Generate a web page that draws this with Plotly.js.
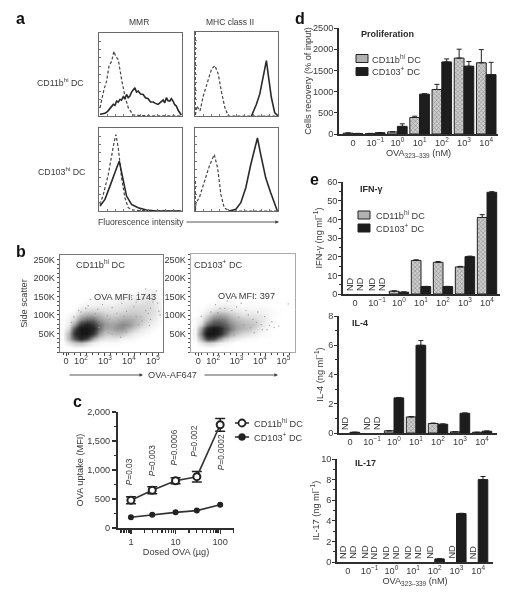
<!DOCTYPE html>
<html><head><meta charset="utf-8">
<script src="https://cdn.plot.ly/plotly-3.0.1.min.js"></script>
<style>html,body{margin:0;padding:0;background:#fff}#g{width:530px;height:600px;filter:blur(0.35px)}</style>
</head><body><div id="g"></div>
<script>
// ---------- DATA ----------
// a: histograms (x = fluorescence channel, y = counts)
const mmrCd11bSolidX=[3,10,18,26,33,38,43,48,53,58,63,68,73,78,83,88,93,98,103,108,113,118,125,133,140,148,155,163,170,178,186,193,198,203,208,213,218,223,228,233,238,243,248];
const mmrCd11bSolidY=[5,6,8,14,22,30,35,32,45,42,50,48,58,52,65,55,60,72,80,85,72,75,66,65,55,52,42,42,38,35,42,48,40,55,46,45,52,45,34,30,18,10,3];
const mmrCd11bIsoX=[3,8,15,23,30,38,45,50,58,68,78,88,103,130,248];
const mmrCd11bIsoY=[25,50,80,105,150,165,195,180,170,110,60,25,3,1,0];
const mhcCd11bIsoX=[1,1,5,15,25,35,50,60,70,80,90,100,170,250];
const mhcCd11bIsoY=[250,0,30,15,60,95,140,150,125,70,25,0,0,0];
const mhcCd11bSolidX=[170,185,195,205,212,215,223,230,240,250];
const mhcCd11bSolidY=[0,35,65,115,160,165,105,55,10,0];
const mmrCd103IsoX=[3,13,28,38,45,51,58,68,78,88,103,130,248];
const mmrCd103IsoY=[20,50,110,170,205,230,190,100,40,10,3,1,0];
const mmrCd103SolidX=[3,18,33,48,55,61,71,83,98,118,143,173,248];
const mmrCd103SolidY=[15,35,75,120,135,150,100,45,20,10,3,0,0];
const mhcCd103IsoX=[1,1,3,13,28,43,58,68,78,88,103,250];
const mhcCd103IsoY=[90,0,25,40,90,135,170,130,50,10,0,0];
const mhcCd103SolidX=[103,123,138,153,168,178,188,198,213,228,238,248];
const mhcCd103SolidY=[0,5,25,70,140,180,220,170,100,55,25,0];
// b: density grids on a (display decade, kilo-events) lattice
const flowX=[1.25,1.5,1.75,2,2.25,2.5,2.75,3,3.25,3.5,3.75,4,4.25,4.5,4.75,5,5.25];
const flowY=[12.5,25,37.5,50,62.5,75,87.5,100,112.5,125,137.5,150,162.5];
const flowCd11b=[
[0,0,.1,.1,0,0,0,0,0,0,0,0,0,0,0,0,0],
[0,.7,1.5,1.8,1,.4,.2,.1,.1,.1,0,0,0,0,0,0,0],
[.1,2,5.5,8,6,2.5,1,.6,.6,.5,.3,.2,.1,0,0,0,0],
[.1,2,7.5,10,10,7,3,1.5,1.5,1.8,1.5,.8,.4,.2,.1,0,0],
[0,1,6,10,10,8.5,4.5,2.5,2.5,3,3,2,1.2,.6,.3,.1,0],
[0,.5,3,7,8.5,7,4.5,3,2.5,3,3.5,3,2,1.2,.6,.3,.1],
[0,.3,1.2,3.5,4.5,4.5,3,2.2,1.8,2,2.4,2.4,2,1.5,1,.5,.2],
[0,.1,.5,1.5,2.2,2.2,1.8,1.3,1.1,1.2,1.4,1.5,1.5,1.3,1,.7,.3],
[0,0,.1,.6,.9,1,.9,.8,.7,.7,.9,1.1,1.1,1.1,1,.8,.4],
[0,0,0,.2,.3,.3,.4,.4,.4,.5,.6,.7,.9,.9,.9,.7,.3],
[0,0,0,0,.1,.2,.2,.2,.2,.3,.4,.5,.5,.6,.8,.6,.3],
[0,0,0,0,0,0,0,0,0,.2,.2,.3,.3,.4,.6,.5,.1],
[0,0,0,0,0,0,0,0,0,0,0,0,0,.2,.3,.3,.1]];
const flowCd103=[
[0,0,0,0,0,0,0,0,0,0,0,0,0,0,0,0,0],
[0,.5,1.2,1,.4,.2,.1,0,0,0,0,0,0,0,0,0,0],
[.2,2.5,6.5,6,3.5,1.5,.7,.4,.2,.1,.1,0,0,0,0,0,0],
[.3,4,10,10,8.5,5,2.5,1.5,1,.7,.4,.2,.1,0,0,0,0],
[.2,3,8,10,9,6,4,2.5,2,1.6,1,.5,.2,0,0,0,0],
[.1,1,4.5,6,6,5,3.5,2.5,2,1.7,1.4,.8,.3,.1,0,0,0],
[.1,.4,2.2,4,4.2,3.8,2.5,1.8,1.4,1.2,1,.7,.4,.1,0,0,0],
[0,.2,.9,2,2.5,2.2,1.5,1,.7,.6,.6,.5,.3,.1,.05,0,0],
[0,.1,.3,.7,1,1,.7,.5,.3,.3,.3,.3,.2,.1,.05,0,0],
[0,0,.1,.2,.3,.4,.3,.2,.1,.1,.1,.1,.1,0,0,0,0],
[0,0,0,0,.1,.1,.1,0,0,0,0,0,0,0,0,0,0],
[0,0,0,0,0,0,0,0,0,0,0,0,0,0,0,0,0],
[0,0,0,0,0,0,0,0,0,0,0,0,0,0,0,0,0]];
const speckCd11bX=[2.4,2.9,3.3,3.7,4.1,4.4,4.7,5.1,5.2,4.9,4.3,3.9,3.5,3.1,2.7,4.6,5.0,4.2,3.8,5.25,4.8,4.5,3.2,2.2,2.0,1.6,4.0,4.9,5.3,5.15,3.0,3.4,3.6,3.8,4.1,4.3,4.55,4.7,2.8,2.6,3.3,3.9,4.4,4.85,1.7,1.9,2.3,2.75,3.15,3.65];
const speckCd11bY=[142,128,120,132,148,160,170,155,132,118,135,110,105,98,115,145,135,122,96,110,104,95,88,118,108,80,82,88,100,165,72,60,86,78,70,96,84,112,92,104,48,54,74,72,95,112,125,66,52,40];
const speckCd103X=[2.1,2.6,3.0,3.4,3.9,4.2,4.5,4.8,3.2,2.8,2.3,3.7,4.6,5.2,4.1,1.5,1.9,3.5,4.4,3.0,3.3,3.6,3.85,4.05,4.3,2.9,2.5,3.1,2.2,3.75];
const speckCd103Y=[128,138,122,112,108,96,82,70,132,112,118,88,66,130,60,96,108,100,72,148,74,66,80,74,60,46,118,94,106,52];
// c: OVA uptake
const doses=[1,3,10,30,100];
const uptakeCd11b=[480,650,815,885,1780];
const uptakeCd11bErr=[60,60,50,90,110];
const uptakeCd103=[185,230,270,300,400];
const uptakeCd103Err=[20,20,20,20,20];
const pValues=['0.03','0.003','0.0006','0.002','0.0002'];
const pHeights=[710,860,1035,1190,965];
// d, e: bars by peptide dose (null = ND)
const ovaLabels=['0','10<sup>−1</sup>','10<sup>0</sup>','10<sup>1</sup>','10<sup>2</sup>','10<sup>3</sup>','10<sup>4</sup>'];
const prolifCd11b=[20,10,50,390,1050,1790,1680];
const prolifCd11bErr=[5,5,5,30,120,210,310];
const prolifCd103=[10,30,180,940,1700,1600,1400];
const prolifCd103Err=[5,5,60,10,70,110,290];
const ifnCd11b=[null,null,1.5,18,17,14.5,41];
const ifnCd11bErr=[0,0,.2,.3,.4,.3,1.5];
const ifnCd103=[null,null,1,4,4,20,54.5];
const ifnCd103Err=[0,0,.1,.1,.1,.3,.3];
const il4Cd11b=[null,null,.15,1.1,.65,.08,.05];
const il4Cd11bErr=[0,0,0,.03,.03,0,0];
const il4Cd103=[.05,null,2.4,6,.6,1.35,.12];
const il4Cd103Err=[0,0,.03,.32,.02,.02,.02];
const il17Cd11b=[null,null,null,null,null,null,null];
const il17Cd103=[null,null,null,null,.3,4.7,8];
const il17Cd103Err=[0,0,0,0,0,.03,.3];

// ---------- HELPERS ----------
const W=530,H=600,X=p=>p/W,Y=p=>1-p/H;
const FONT='"Liberation Sans",Arial,sans-serif', INK='#3a3a3a', AX='#2e2e2e';
const TXT=9.2;
const layout={width:W,height:H,margin:{l:0,r:0,t:0,b:0},paper_bgcolor:'#fff',plot_bgcolor:'#fff',
  showlegend:false,font:{family:FONT,size:TXT,color:INK},barmode:'group',bargap:.12,bargroupgap:0,
  annotations:[],shapes:[]};
const traces=[];
let n=0;
function axes(xd,yd,xo,yo){
  n++;const s=n===1?'':n;
  layout['xaxis'+s]=Object.assign({domain:[X(xd[0]),X(xd[1])],anchor:'y'+s,showgrid:false,zeroline:false,automargin:false},xo);
  layout['yaxis'+s]=Object.assign({domain:[Y(yd[1]),Y(yd[0])],anchor:'x'+s,showgrid:false,zeroline:false,automargin:false},yo);
  return {x:'x'+s,y:'y'+s};
}
function label(px,py,text,o){
  layout.annotations.push(Object.assign({xref:'paper',yref:'paper',x:X(px),y:Y(py),text,showarrow:false,
    xanchor:'center',yanchor:'middle',font:{family:FONT,size:TXT,color:INK}},o||{}));
}
function arrow(x0,x1,py){
  layout.annotations.push({xref:'paper',yref:'paper',x:X(x1),y:Y(py),ax:x0-x1,ay:0,axref:'pixel',ayref:'pixel',text:'',showarrow:true,
    arrowhead:2,arrowsize:.8,arrowwidth:.9,arrowcolor:'#444'});
}
// ---------- a ----------
const histAxis={range:[0,250],showline:true,mirror:true,linecolor:'#6a6a6a',linewidth:1.2,ticks:'inside',ticklen:2,tickcolor:'#777',dtick:25,showticklabels:false,fixedrange:true};
function hist(xd,yd,sx,sy,ix,iy){
  const a=axes(xd,yd,histAxis,histAxis);
  traces.push({type:'scatter',mode:'lines',x:ix,y:iy,xaxis:a.x,yaxis:a.y,cliponaxis:false,line:{color:'#444',width:1.2,dash:'3px,2px'}});
  traces.push({type:'scatter',mode:'lines',x:sx,y:sy,xaxis:a.x,yaxis:a.y,line:{color:'#2a2a2a',width:1.6}});
}
hist([99,182],[33,116],mmrCd11bSolidX,mmrCd11bSolidY,mmrCd11bIsoX,mmrCd11bIsoY);
hist([195,278],[32,116],mhcCd11bSolidX,mhcCd11bSolidY,mhcCd11bIsoX,mhcCd11bIsoY);
hist([99,182],[128,211],mmrCd103SolidX,mmrCd103SolidY,mmrCd103IsoX,mmrCd103IsoY);
hist([195,278],[128,211],mhcCd103SolidX,mhcCd103SolidY,mhcCd103IsoX,mhcCd103IsoY);
label(139,22,'MMR',{font:{family:FONT,size:8.5,color:INK}});
label(229.5,22,'MHC class II',{font:{family:FONT,size:8.5,color:INK}});
label(60,82,'CD11b<sup>hi</sup> DC',{font:{family:FONT,size:8.8,color:INK}});
label(62,171,'CD103<sup>hi</sup> DC',{font:{family:FONT,size:8.8,color:INK}});
label(141,222,'Fluorescence intensity',{font:{family:FONT,size:8.6,color:INK}});
arrow(185,279,222);
// ---------- b ----------
const GREY=[[0,'#ffffff'],[.02,'#f6f6f6'],[.06,'#e6e6e6'],[.15,'#c4c4c4'],[.3,'#969696'],[.5,'#5c5c5c'],[.75,'#2c2c2c'],[1,'#161616']];
function flow(xd,yd,xr,z,sx,sy,yr,edge,yo){
  const tick={showline:true,mirror:true,linecolor:edge,linewidth:1.2,ticks:'outside',ticklen:3,tickcolor:'#444',tickfont:{size:TXT},fixedrange:true};
  const a=axes(xd,yd,Object.assign({},tick,{range:xr,tickvals:[1.375,2,3,4,5],ticktext:['0','10<sup>2</sup>','10<sup>3</sup>','10<sup>4</sup>','10<sup>5</sup>'],ticklabelstandoff:-3,minor:{ticks:'outside',dtick:.25,ticklen:2,tickcolor:'#444'}}),
    Object.assign({},tick,{range:yr,tickvals:[50,100,150,200,250],ticktext:['50K','100K','150K','200K','250K'],ticklen:2,minor:{ticks:'outside',dtick:12.5,ticklen:1.5,tickcolor:'#555'}},yo||{}));
  traces.push({type:'heatmap',x:flowX,y:flowY,z,xaxis:a.x,yaxis:a.y,zmin:0,zmax:10,zsmooth:'best',showscale:false,colorscale:GREY,hoverinfo:'skip'});
  traces.push({type:'scatter',mode:'markers',x:sx,y:sy,xaxis:a.x,yaxis:a.y,marker:{size:1.4,color:'#a0a0a0'}});
  return a;
}
flow([60,163],[255,352],[1.125,5.42],flowCd11b,speckCd11bX,speckCd11bY,[0,262],'#777',{title:{text:'Side scatter',standoff:4,font:{size:TXT}}});
flow([191,295],[254,352],[1.06,5.49],flowCd103,speckCd103X,speckCd103Y,[0,265],'#aaa');
label(100,264,'CD11b<sup>hi</sup> DC');
label(218,264,'CD103<sup>+</sup> DC');
label(125,297,'OVA MFI: 1743');
label(246,296,'OVA MFI: 397');
label(172,375,'OVA-AF647');
arrow(68,143,375);arrow(203,278,375);
// ---------- c ----------
const cAx=axes([118,234],[412,528],
 {type:'log',range:[-.29,2.31],showline:true,linecolor:AX,linewidth:2,ticks:'outside',ticklen:4,tickcolor:AX,tickwidth:1.3,dtick:1,tickfont:{size:TXT},
  minor:{ticks:'outside',dtick:'D1',ticklen:2.5,tickcolor:AX},tickvals:[1,10,100],ticktext:['1','10','100'],
  title:{text:'Dosed OVA (µg)',standoff:3,font:{size:TXT}},fixedrange:true},
 {range:[0,2000],showline:true,linecolor:AX,linewidth:2,ticks:'outside',ticklen:4,tickcolor:AX,tickwidth:1.3,dtick:500,tickformat:',d',tickfont:{size:TXT},
  minor:{ticks:'outside',dtick:250,ticklen:2.5,tickcolor:AX},
  title:{text:'OVA uptake (MFI)',standoff:2,font:{size:TXT}},fixedrange:true});
traces.push({type:'scatter',mode:'lines+markers',x:doses,y:uptakeCd103,xaxis:cAx.x,yaxis:cAx.y,
  error_y:{type:'data',array:uptakeCd103Err,color:'#222',thickness:1,width:2},
  line:{color:'#333',width:1.6},marker:{symbol:'circle',size:6,color:'#222'}});
traces.push({type:'scatter',mode:'lines+markers',x:doses,y:uptakeCd11b,xaxis:cAx.x,yaxis:cAx.y,cliponaxis:false,
  error_y:{type:'data',array:uptakeCd11bErr,color:'#222',thickness:1.5,width:5},
  line:{color:'#333',width:1.6},marker:{symbol:'circle',size:7,color:'#fff',line:{color:'#222',width:2}}});
const pShift=[-2,0,-2,-3,1];
doses.forEach((d,i)=>layout.annotations.push({xref:cAx.x,yref:cAx.y,x:Math.log10(d),y:pHeights[i],text:'<i>P</i>='+pValues[i],showarrow:false,textangle:-90,yanchor:'bottom',xshift:pShift[i],font:{family:FONT,size:8.3,color:INK}}));
[[423,false,'CD11b<sup>hi</sup> DC'],[437,true,'CD103<sup>+</sup> DC']].forEach(([py,fill,t])=>{
  layout.shapes.push({type:'line',xref:'paper',yref:'paper',x0:X(235),x1:X(249),y0:Y(py),y1:Y(py),line:{color:'#333',width:1.6}});
  layout.shapes.push({type:'circle',xref:'paper',yref:'paper',x0:X(238.5),x1:X(245.5),y0:Y(py+3.5),y1:Y(py-3.5),fillcolor:fill?'#222':'#fff',line:{color:'#222',width:fill?.5:1.8}});
  label(252,py,t,{xanchor:'left'});
});
// ---------- d, e ----------
const hatch={shape:'x',fgcolor:'#979797',bgcolor:'#cccccc',size:3,solidity:.4};
function bars(xd,yd,yr,xr,dt,minor,v1,e1,v2,e2,title,xtitle,sa){
  const a=axes(xd,yd,
   {type:'category',categoryorder:'array',categoryarray:ovaLabels,range:xr,showline:true,linecolor:AX,linewidth:1.8,ticks:'',tickfont:{size:TXT},ticklabelstandoff:-1,
    title:xtitle?{text:xtitle,standoff:3,font:{size:TXT}}:undefined,fixedrange:true},
   {range:yr,showline:true,linecolor:AX,linewidth:1.8,ticks:'outside',ticklen:3,tickcolor:AX,dtick:dt,tickfont:{size:TXT},ticklabelstandoff:-1,
    minor:minor?{ticks:'outside',dtick:minor,ticklen:2,tickcolor:AX}:undefined,
    title:{text:title,standoff:sa,font:{size:TXT}},fixedrange:true});
  const err=e=>e?{type:'data',symmetric:false,array:e,arrayminus:e.map(()=>0),color:'#222',thickness:1,width:2.5}:undefined;
  traces.push({type:'bar',x:ovaLabels,y:v1,xaxis:a.x,yaxis:a.y,error_y:err(e1),marker:{color:'#cccccc',pattern:hatch,line:{color:'#222',width:1}}});
  traces.push({type:'bar',x:ovaLabels,y:v2,xaxis:a.x,yaxis:a.y,error_y:err(e2),marker:{color:'#1d1d1d',line:{color:'#1d1d1d',width:1}}});
  ovaLabels.forEach((c,i)=>{
    [[v1,-4.9],[v2,4.9]].forEach(([v,sh])=>{ if(v[i]===null) layout.annotations.push({xref:a.x,yref:a.y,x:i,y:0,xshift:sh,yshift:1,yanchor:'bottom',showarrow:false,textangle:-90,text:'ND',font:{family:FONT,size:TXT,color:INK}}); });
  });
  return a;
}
const ovaNm='OVA<sub>323–339</sub> (nM)';
bars([339,498],[28,134],[0,2500],[-.63,6.53],500,0,prolifCd11b,prolifCd11bErr,prolifCd103,prolifCd103Err,'Cells recovery (% of input)',ovaNm,0);
bars([343,500],[182,294],[0,60],[-.545,6.59],10,5,ifnCd11b,ifnCd11bErr,ifnCd103,ifnCd103Err,'IFN-γ (ng ml<sup>−1</sup>)',undefined,3);
bars([339,497],[316,433],[0,8],[-.5,6.68],2,1,il4Cd11b,il4Cd11bErr,il4Cd103,il4Cd103Err,'IL-4 (ng ml<sup>−1</sup>)',undefined,3);
bars([337,493],[459,562],[0,10],[-.5,6.68],2,1,il17Cd11b,null,il17Cd103,il17Cd103Err,'IL-17 (ng ml<sup>−1</sup>)',ovaNm,0);
function swatch(x0,py,fill,t,tx){
  layout.shapes.push({type:'rect',xref:'paper',yref:'paper',x0:X(x0),x1:X(x0+12),y0:Y(py+4),y1:Y(py-4),fillcolor:fill,line:{color:'#222',width:1}});
  label(tx,py,t,{xanchor:'left'});
}
swatch(356,58.5,'#b2b2b2','CD11b<sup>hi</sup> DC',370);
swatch(356,71.5,'#1d1d1d','CD103<sup>+</sup> DC',370);
swatch(358,215,'#b2b2b2','CD11b<sup>hi</sup> DC',374);
swatch(358,228,'#1d1d1d','CD103<sup>+</sup> DC',374);
const bold={family:FONT,size:9,color:'#2a2a2a'};
label(359,34,'<b>Proliferation</b>',{xanchor:'left',font:bold});
label(358,189,'<b>IFN-γ</b>',{xanchor:'left',font:bold});
label(350,323,'<b>IL-4</b>',{xanchor:'left',font:bold});
label(353,463,'<b>IL-17</b>',{xanchor:'left',font:bold});
// panel letters
const big={family:FONT,size:16,color:'#111'};
[['a',20,19],['b',21,251],['c',77,401],['d',300,19],['e',314,179]].forEach(([t,x,y])=>label(x,y,'<b>'+t+'</b>',{font:big}));
Plotly.newPlot('g',traces,layout,{staticPlot:true,displayModeBar:false});
</script></body></html>
